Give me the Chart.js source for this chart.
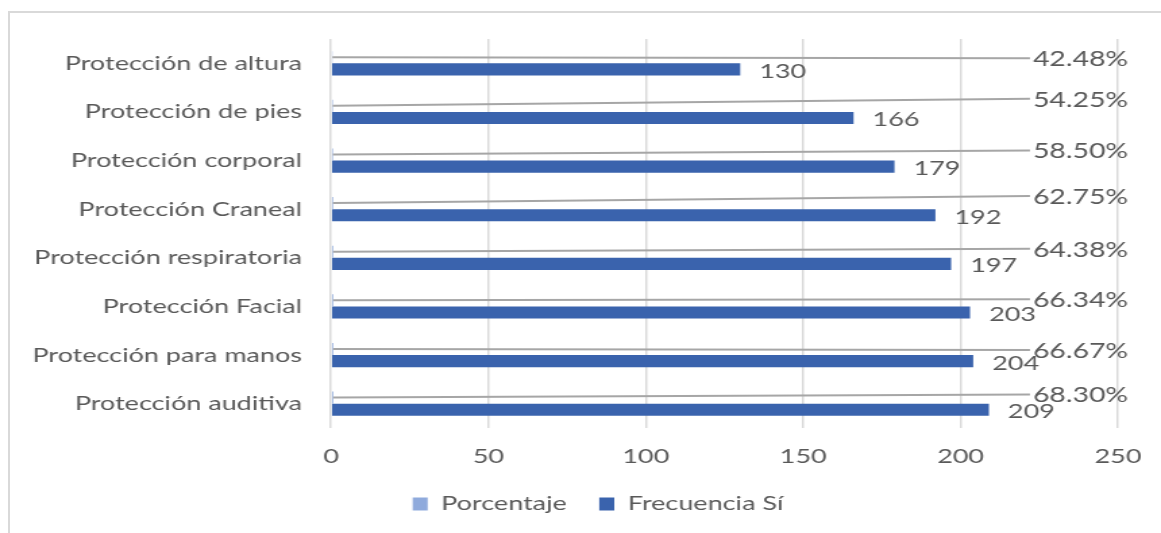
<!DOCTYPE html>
<html>
<head>
<meta charset="utf-8">
<script src="https://cdn.jsdelivr.net/npm/chart.js@4/dist/chart.umd.min.js"></script>
<style>
  html, body { margin: 0; padding: 0; background: #fff; overflow: hidden; width: 1161px; height: 533px; position: relative; }
  #frame { position: absolute; left: 8px; top: 11px; width: 1400px; height: 800px;
           border-left: 2px solid #d9d9d9; border-top: 2px solid #d9d9d9; }
  #wrap { position: absolute; left: 0; top: 0; height: 533px; transform-origin: 0 0; }
</style>
</head>
<body>
<div id="frame"></div>
<div id="wrap"><canvas id="chart"></canvas></div>
<script>
// Equipos de protección personal: frecuencia de respuestas "Sí" y su porcentaje
const categorias = [
  'Protección de altura',
  'Protección de pies',
  'Protección corporal',
  'Protección Craneal',
  'Protección respiratoria',
  'Protección Facial',
  'Protección para manos',
  'Protección auditiva'
];
const porcentaje = [0.4248, 0.5425, 0.5850, 0.6275, 0.6438, 0.6634, 0.6667, 0.6830];
const frecuenciaSi = [130, 166, 179, 192, 197, 203, 204, 209];
const ejeX = [0, 50, 100, 150, 200, 250];

// The whole drawing is widened horizontally by this factor
const STRETCH = 1.35;
const OUT_W = 1195, OUT_H = 533;
const W = Math.round(OUT_W / STRETCH);

const TEXT = '#595959';
const FONT = "Lato, 'Open Sans', sans-serif";

const wrap = document.getElementById('wrap');
wrap.style.width = W + 'px';
wrap.style.transform = 'scaleX(' + STRETCH + ')';
const canvas = document.getElementById('chart');
canvas.width = W; canvas.height = OUT_H;
canvas.style.width = W + 'px'; canvas.style.height = OUT_H + 'px';

// Plot edges and legend centre, in output pixels
const plotLeft = 331 / STRETCH;
const plotRight = 1118 / STRETCH;
const legendCentre = 598 / STRETCH;
const AXIS_H = 42, LEGEND_H = 63;

const valueLabels = {
  id: 'valueLabels',
  afterInit(chart) {
    // fixed legend band height
    const lg = chart.legend;
    if (lg) {
      const fit = lg.fit.bind(lg);
      lg.fit = function () { fit(); this.height = LEGEND_H; };
    }
  },
  afterLayout(chart) {
    const lg = chart.legend;
    if (lg) {
      const d = legendCentre - (lg.left + lg.right) / 2;
      lg.left += d; lg.right += d;
    }
  },
  afterDatasetsDraw(chart, args, opts) {
    const ctx = chart.ctx;
    const pMeta = chart.getDatasetMeta(0);
    const fMeta = chart.getDatasetMeta(1);
    const area = chart.chartArea;
    ctx.save();
    ctx.fillStyle = TEXT;
    ctx.textBaseline = 'middle';
    ctx.textAlign = 'left';
    // Frequency values right after each bar
    ctx.font = '20px ' + FONT;
    fMeta.data.forEach((bar, i) => {
      ctx.fillText(String(frecuenciaSi[i]), bar.x + 19 / STRETCH, bar.y + 2);
    });
    // Percentages sit at the right, joined to their bar by a leader line
    ctx.font = '21px ' + FONT;
    const labelX = area.right - 85 / STRETCH;
    pMeta.data.forEach((bar, i) => {
      const ly = bar.y + (opts.nudge[i] || 0);
      ctx.strokeStyle = '#a6a6a6';
      ctx.lineWidth = 2;
      ctx.beginPath();
      ctx.moveTo(bar.x, bar.y);
      ctx.lineTo(labelX - 3 / STRETCH, ly);
      ctx.stroke();
      ctx.fillText((porcentaje[i] * 100).toFixed(2) + '%', labelX, ly + 1);
    });
    ctx.restore();
  }
};

new Chart(canvas, {
  type: 'bar',
  data: {
    labels: categorias,
    datasets: [
      { label: 'Porcentaje', data: porcentaje, backgroundColor: '#8faadc', borderWidth: 0 },
      { label: 'Frecuencia Sí', data: frecuenciaSi, backgroundColor: '#3a63ad', borderWidth: 0 }
    ]
  },
  options: {
    indexAxis: 'y',
    responsive: false,
    animation: false,
    devicePixelRatio: 1,
    categoryPercentage: 0.5,
    barPercentage: 1,
    layout: { padding: { left: 0, right: W - plotRight, top: 39, bottom: 0 } },
    scales: {
      x: {
        min: 0, max: 250,
        afterBuildTicks(scale) { scale.ticks = ejeX.map(v => ({ value: v })); },
        afterFit(scale) { scale.height = AXIS_H; },
        grid: { color: '#d9d9d9', lineWidth: 2 / STRETCH, drawTicks: false },
        border: { display: false },
        ticks: { color: TEXT, font: { family: FONT, size: 20 }, padding: 17 }
      },
      y: {
        afterFit(scale) { scale.width = plotLeft; },
        grid: { display: false, drawTicks: false },
        border: { display: false },
        ticks: { color: TEXT, font: { family: FONT, size: 20 }, padding: 29 / STRETCH }
      }
    },
    plugins: {
      legend: {
        position: 'bottom',
        labels: {
          color: TEXT,
          font: { family: FONT, size: 20 },
          boxWidth: 15 / STRETCH,
          boxHeight: 13,
          padding: 24
        }
      },
      tooltip: { enabled: false },
      valueLabels: { nudge: [1, -7, -4, -7, -3, -1, 1, -3] }
    }
  },
  plugins: [valueLabels]
});
</script>
</body>
</html>
